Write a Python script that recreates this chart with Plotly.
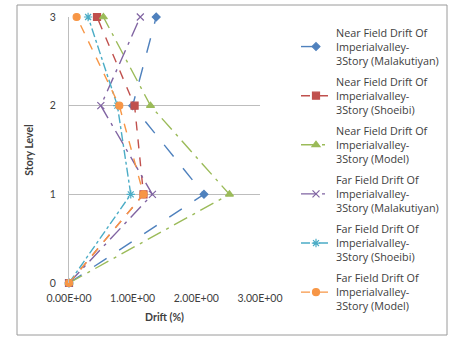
import plotly.graph_objects as go

levels = [0, 1, 2, 3]

near_malakutiyan = [0, 2.12, 1.00, 1.37]
near_shoeibi = [0, 1.17, 1.03, 0.44]
near_model = [0, 2.52, 1.28, 0.54]
far_malakutiyan = [0, 1.31, 0.50, 1.12]
far_shoeibi = [0, 0.97, 0.76, 0.30]
far_model = [0, 1.17, 0.79, 0.12]

series_names = [
    "Near Field Drift Of<br>Imperialvalley-<br>3Story (Malakutiyan)",
    "Near Field Drift Of<br>Imperialvalley-<br>3Story (Shoeibi)",
    "Near Field Drift Of<br>Imperialvalley-<br>3Story (Model)",
    "Far Field Drift Of<br>Imperialvalley-<br>3Story (Malakutiyan)",
    "Far Field Drift Of<br>Imperialvalley-<br>3Story (Shoeibi)",
    "Far Field Drift Of<br>Imperialvalley-<br>3Story (Model)",
]
series_values = [near_malakutiyan, near_shoeibi, near_model,
                 far_malakutiyan, far_shoeibi, far_model]

x_ticks = [0, 1, 2, 3]
x_tick_labels = ["0.00E+00", "1.00E+00", "2.00E+00", "3.00E+00"]
y_ticks = [0, 1, 2, 3]
y_tick_labels = ["0", "1", "2", "3"]

colors = ["#4F81BD", "#C0504D", "#9BBB59", "#8064A2", "#4BACC6", "#F79646"]
symbols = ["diamond", "square", "triangle-up", "x-thin", "asterisk-open", "circle"]
dashes = ["longdash", "dash", "longdashdot", "longdashdot", "dashdot", "dash"]
sizes = [6, 7, 7, 7, 7, 7]

W, H = 457, 338
L, R, T, B = 69, 197, 17, 55

fig = go.Figure()
for i, (name, vals, c, s, d, sz) in enumerate(zip(series_names, series_values, colors, symbols, dashes, sizes)):
    fig.add_trace(go.Scatter(
        x=vals, y=levels, name=name, mode="lines+markers", legendgroup=f"g{i}",
        line=dict(color=c, width=1.4, dash=d),
        marker=dict(symbol=s, size=sz, color=c, line=dict(color=c, width=1.2)),
        cliponaxis=False,
    ))

pw = W - L - R
ph = H - T - B


def px_x(p):
    return (p - L) / pw


def px_y(p):
    return (H - B - p) / ph


font_family = "Lato, 'Open Sans', sans-serif"

fig.update_layout(
    width=W, height=H,
    margin=dict(l=L, r=R, t=T, b=B, pad=0),
    paper_bgcolor="white", plot_bgcolor="white",
    font=dict(family=font_family, size=11, color="#404040"),
    showlegend=True,
    legend=dict(
        x=px_x(296), y=px_y(19), xanchor="left", yanchor="top",
        font=dict(family="'Open Sans', sans-serif", size=10.8, color="#404040"),
        tracegroupgap=4, itemwidth=30, bgcolor="rgba(0,0,0,0)",
        maxheight=330,
    ),
    xaxis=dict(
        range=[0, 3], tickvals=x_ticks, ticktext=x_tick_labels,
        showgrid=False, zeroline=False, showline=False, ticks="",
        ticklabelstandoff=7,
        tickfont=dict(size=10.5, color="#404040"),
        title=dict(text="<b>Drift (%)</b>", font=dict(size=10.5, color="#404040"), standoff=11),
    ),
    yaxis=dict(
        range=[0, 3], tickvals=y_ticks, ticktext=y_tick_labels,
        showgrid=True, gridcolor="#BDBDBD", gridwidth=1,
        zeroline=False, showline=True, linecolor="#BDBDBD", linewidth=1,
        ticks="", ticklabelstandoff=10,
        tickfont=dict(size=10.5, color="#404040"),
        title=dict(text="<b>Story Level</b>", font=dict(size=10.5, color="#404040"), standoff=14),
    ),
    shapes=[
        dict(type="rect", xref="paper", yref="paper",
             x0=px_x(17), x1=px_x(447), y0=px_y(335), y1=px_y(5),
             line=dict(color="#9A9A9A", width=1), fillcolor="rgba(0,0,0,0)", layer="below"),
    ],
)

fig.write_html("out.html")
